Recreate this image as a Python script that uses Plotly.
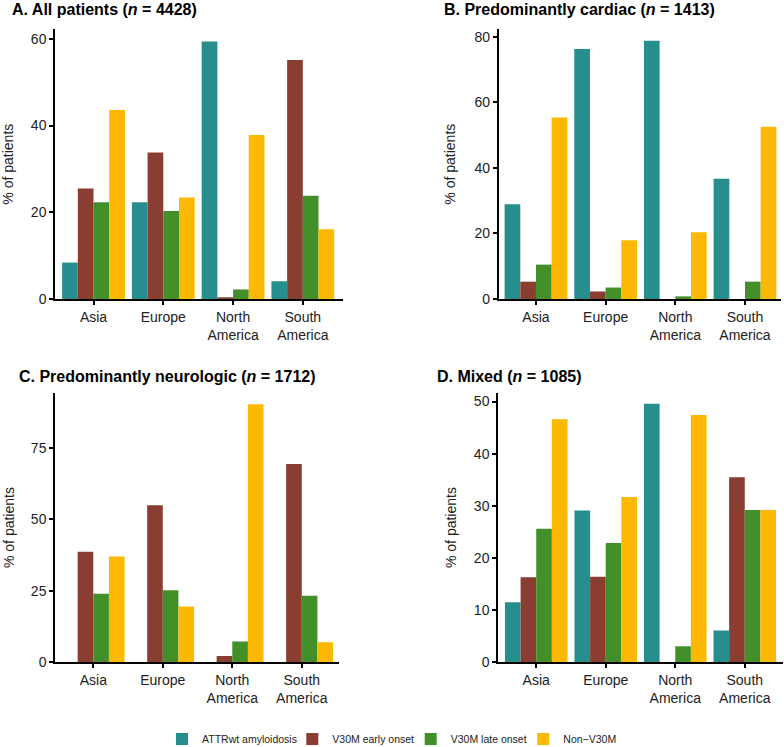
import plotly.graph_objects as go

W, H = 784, 747

regions = ["Asia", "Europe", "North<br>America", "South<br>America"]
series_names = ["ATTRwt amyloidosis", "V30M early onset", "V30M late onset", "Non\u2212V30M"]
colors = ["#268F8D", "#8A3E31", "#43902A", "#FDB901"]

# Panel A: All patients
a_attrwt = [8.4, 22.3, 59.4, 4.1]
a_early = [25.5, 33.8, 0.4, 55.1]
a_late = [22.3, 20.3, 2.2, 23.8]
a_non = [43.6, 23.4, 37.8, 16.1]

# Panel B: Predominantly cardiac
b_attrwt = [28.9, 76.3, 78.8, 36.7]
b_early = [5.3, 2.3, 0.0, 0.0]
b_late = [10.5, 3.5, 0.8, 5.3]
b_non = [55.4, 17.9, 20.4, 52.6]

# Panel C: Predominantly neurologic
c_attrwt = [0.0, 0.0, 0.0, 0.0]
c_early = [38.7, 54.9, 2.2, 69.4]
c_late = [24.0, 25.2, 7.3, 23.3]
c_non = [37.0, 19.5, 90.3, 7.0]

# Panel D: Mixed
d_attrwt = [11.5, 29.1, 49.6, 6.1]
d_early = [16.3, 16.4, 0.0, 35.5]
d_late = [25.6, 22.9, 3.1, 29.2]
d_non = [46.6, 31.7, 47.4, 29.2]

titles = [
    "<b>A. All patients (<i>n</i> = 4428)</b>",
    "<b>B. Predominantly cardiac (<i>n</i> = 1413)</b>",
    "<b>C. Predominantly neurologic (<i>n</i> = 1712)</b>",
    "<b>D. Mixed (<i>n</i> = 1085)</b>",
]
yticks = [[0, 20, 40, 60], [0, 20, 40, 60, 80], [0, 25, 50, 75], [0, 10, 20, 30, 40, 50]]
yranges = [[0, 62.2], [0, 82.3], [0, 94.3], [0, 51.7]]
xranges = [[-0.552, 3.58], [-0.535, 3.517], [-0.551, 3.54], [-0.55, 3.55]]

panels = [
    [a_attrwt, a_early, a_late, a_non],
    [b_attrwt, b_early, b_late, b_non],
    [c_attrwt, c_early, c_late, c_non],
    [d_attrwt, d_early, d_late, d_non],
]

# layout geometry in pixels: (x0, x1, ytop, ybottom)
geom = [
    (55.0, 343.3, 29.3, 299.0),
    (498.7, 781.0, 29.3, 299.0),
    (55.0, 339.3, 392.7, 662.3),
    (498.0, 783.0, 392.7, 662.3),
]
title_pos = [(10, 9.5), (442, 9.5), (16.7, 376), (435.3, 376)]
ytitle_x = [8.5, 450.5, 8.5, 450.5]
legend_square_x = [178, 308.3, 426.7, 539.3]
legend_names = ["legend", "legend2", "legend3", "legend4"]

FONT = "Liberation Sans, Arial, sans-serif"

fig = go.Figure()
layout = dict(
    width=W, height=H,
    margin=dict(l=0, r=0, t=0, b=0, autoexpand=False),
    paper_bgcolor="white", plot_bgcolor="white",
    barmode="group", bargap=0.1, bargroupgap=0.0,
    font=dict(family=FONT, color="#222222", size=14),
    showlegend=True,
)
for i, ln in enumerate(legend_names):
    layout[ln] = dict(orientation="h", x=(legend_square_x[i] - 16) / W, xanchor="left",
                      y=1 - 739 / H, yanchor="middle",
                      font=dict(size=10.5, color="#222222"),
                      itemclick=False, itemdoubleclick=False, bgcolor="rgba(0,0,0,0)")
annotations = []

for p, data in enumerate(panels):
    sfx = "" if p == 0 else str(p + 1)
    for s, vals in enumerate(data):
        fig.add_trace(go.Bar(
            x=regions, y=vals, name=series_names[s],
            marker=dict(color=colors[s], line=dict(width=0)),
            xaxis="x" + sfx, yaxis="y" + sfx,
            legendgroup=series_names[s], showlegend=(p == 0),
            legend=legend_names[s],
        ))
    x0, x1, yt, yb = geom[p]
    layout["xaxis" + sfx] = dict(
        domain=[x0 / W, x1 / W], anchor="y" + sfx, type="category",
        range=xranges[p], showline=True, linecolor="black", linewidth=1.5,
        ticks="outside", ticklen=4, tickwidth=1.5, tickcolor="black",
        showgrid=False, zeroline=False, tickfont=dict(size=14, color="#222222"),
        fixedrange=True, automargin=False,
    )
    layout["yaxis" + sfx] = dict(
        domain=[1 - yb / H, 1 - yt / H], anchor="x" + sfx,
        range=yranges[p], tickvals=yticks[p], showline=True, linecolor="black", linewidth=1.5,
        ticks="outside", ticklen=4, tickwidth=1.5, tickcolor="black",
        showgrid=False, zeroline=False, tickfont=dict(size=14, color="#222222"),
        fixedrange=True, automargin=False,
    )
    tx, ty = title_pos[p]
    annotations.append(dict(text=titles[p], x=tx / W, y=1 - ty / H, xref="paper", yref="paper",
                            xanchor="left", yanchor="middle", showarrow=False,
                            font=dict(size=16, color="black")))
    annotations.append(dict(text="% of patients", x=ytitle_x[p] / W, y=1 - ((yt + yb) / 2) / H,
                            xref="paper", yref="paper", xanchor="center", yanchor="middle",
                            textangle=-90, showarrow=False, font=dict(size=14, color="#222222")))

layout["annotations"] = annotations
fig.update_layout(**layout)
fig.write_html(
    "out.html",
    config={"displayModeBar": False},
    post_script="document.body.style.margin='0';document.body.style.overflow='hidden';",
)
